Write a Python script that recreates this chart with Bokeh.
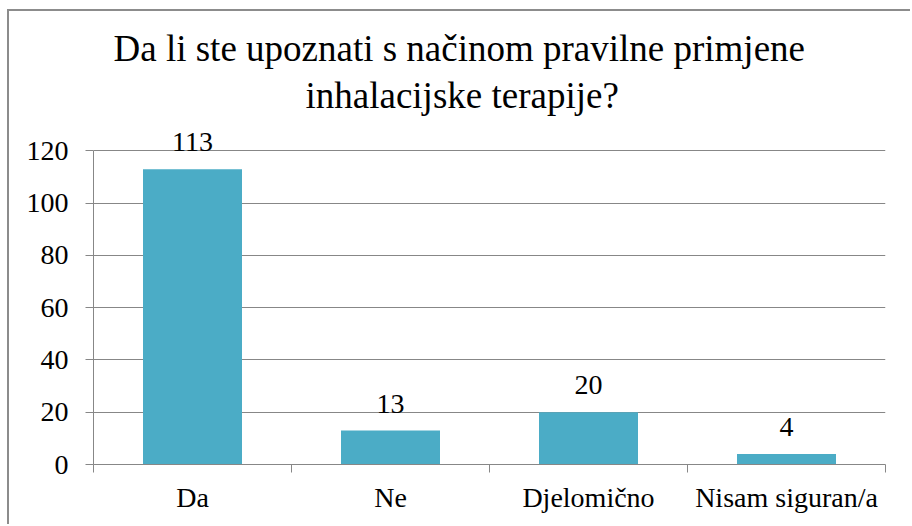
from bokeh.plotting import figure
from bokeh.models import FixedTicker, Range1d, ColumnDataSource, Title, LabelSet
from bokeh.embed import file_html
from bokeh.resources import INLINE

categories = ["Da", "Ne", "Djelomično", "Nisam siguran/a"]
counts = [113, 13, 20, 4]
y_ticks = [0, 20, 40, 60, 80, 100, 120]
title_lines = ["Da li ste upoznati s načinom pravilne primjene", "inhalacijske terapije?"]
title_offsets = [20, 212]

xs = [i + 0.5 for i in range(len(categories))]
src = ColumnDataSource(dict(x=xs, top=counts, label=[str(c) for c in counts]))

SERIF = "Liberation Serif"
GRAY = "#878787"

p = figure(width=903, height=515, output_backend="svg", toolbar_location=None,
           x_range=Range1d(0, len(categories)), y_range=Range1d(0, 132),
           min_border_left=84, min_border_right=27, min_border_bottom=62, min_border_top=108,
           title=None)
p.styles = {"margin-left": "7px", "margin-top": "9px",
            "border-left": "2px solid #8c8c8c", "border-top": "2px solid #8c8c8c"}

pairs = list(zip(title_lines, title_offsets))
for i, (t, off) in enumerate(reversed(pairs)):
    p.add_layout(Title(text=t, align="left", offset=off, text_font=SERIF, text_font_size="37px",
                       text_font_style="normal", text_color="black",
                       standoff=8 if i == 0 else 0), "above")

p.vbar(x="x", top="top", width=0.5, source=src, color="#4BACC6", line_color=None)
p.add_layout(LabelSet(x="x", y="top", text="label", source=src, text_align="center",
                      text_baseline="bottom", y_offset=18, text_font=SERIF,
                      text_font_size="28px", text_color="black"))

p.outline_line_color = None
p.xgrid.visible = False
p.ygrid.grid_line_color = GRAY
p.ygrid.ticker = FixedTicker(ticks=y_ticks)

p.yaxis.ticker = FixedTicker(ticks=y_ticks)
p.yaxis.bounds = (y_ticks[0], y_ticks[-1])
p.yaxis.axis_line_color = GRAY
p.yaxis.major_tick_line_color = GRAY
p.yaxis.major_tick_in = 0
p.yaxis.major_tick_out = 8
p.yaxis.minor_tick_line_color = None
p.yaxis.major_label_text_font = SERIF
p.yaxis.major_label_text_font_size = "28px"
p.yaxis.major_label_text_font_style = "normal"
p.yaxis.major_label_text_color = "black"
p.yaxis.major_label_standoff = 17

p.xaxis.ticker = FixedTicker(ticks=xs, minor_ticks=list(range(len(categories) + 1)))
p.xaxis.major_label_overrides = {x: c for x, c in zip(xs, categories)}
p.xaxis.axis_line_color = GRAY
p.xaxis.major_tick_line_color = None
p.xaxis.minor_tick_line_color = GRAY
p.xaxis.minor_tick_in = 0
p.xaxis.minor_tick_out = 8
p.xaxis.major_label_text_font = SERIF
p.xaxis.major_label_text_font_size = "28px"
p.xaxis.major_label_text_font_style = "normal"
p.xaxis.major_label_text_color = "black"
p.xaxis.major_label_standoff = 9

open("out.html", "w").write(file_html(p, INLINE))
